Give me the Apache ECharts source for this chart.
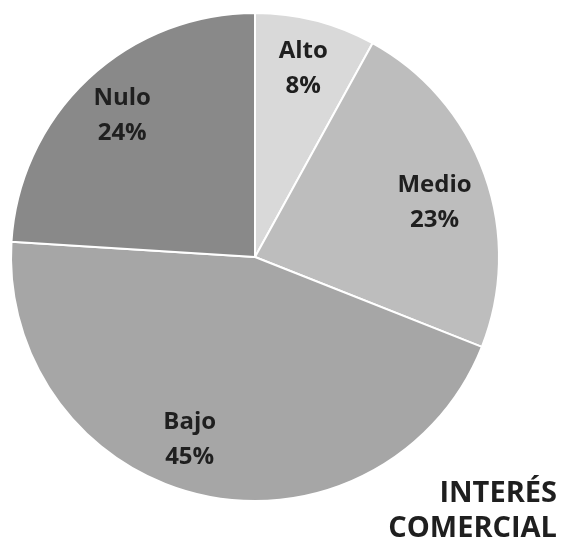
<!DOCTYPE html>
<html>
<head>
<meta charset="utf-8">
<script src="https://cdn.jsdelivr.net/npm/echarts@6/dist/echarts.min.js"></script>
<style>
  html, body { margin: 0; padding: 0; background: #ffffff; }
  #chart { width: 565px; height: 544px; }
</style>
</head>
<body>
<div id="chart"></div>
<script>
// Commercial interest levels, share of responses (%)
const categories = ['Alto', 'Medio', 'Bajo', 'Nulo'];
const shares = [8, 23, 45, 24];
const sliceColors = ['#d9d9d9', '#bdbdbd', '#a6a6a6', '#898989'];
const chartTitle = ['INTERÉS', 'COMERCIAL'];

const fontFamily = '"Open Sans", "DejaVu Sans", sans-serif';
const pieCenter = [255, 257];
const pieRadius = 244;
// small manual nudges of individual slice labels (px)
const labelNudge = { Medio: [-3, 11], Bajo: [-23, -7] };

const sliceData = categories.map((name, i) => ({
  name: name,
  value: shares[i],
  itemStyle: { color: sliceColors[i] }
}));

const labelData = categories.map((name, i) => ({
  name: name,
  value: shares[i],
  label: { offset: labelNudge[name] || [0, 0] }
}));

const chart = echarts.init(document.getElementById('chart'), null, { renderer: 'canvas' });

chart.setOption({
  animation: false,
  backgroundColor: '#ffffff',
  series: [
    {
      // filled slices
      type: 'pie',
      center: pieCenter,
      radius: pieRadius,
      startAngle: 90,
      clockwise: true,
      silent: true,
      label: { show: false },
      labelLine: { show: false },
      itemStyle: { borderColor: '#ffffff', borderWidth: 2 },
      data: sliceData
    },
    {
      // transparent ring carrying the slice labels further out than the default inner position
      type: 'pie',
      center: pieCenter,
      radius: [138, pieRadius],
      startAngle: 90,
      clockwise: true,
      silent: true,
      itemStyle: { color: 'transparent', borderWidth: 0 },
      label: {
        show: true,
        position: 'inside',
        formatter: p => p.name + '\n' + p.value + '%',
        fontFamily: fontFamily,
        fontWeight: 'bold',
        fontSize: 24,
        lineHeight: 35,
        color: '#1f1f1f'
      },
      labelLine: { show: false },
      data: labelData
    }
  ],
  graphic: [
    {
      type: 'text',
      right: 8,
      bottom: -2,
      style: {
        text: chartTitle.join('\n'),
        textAlign: 'right',
        font: 'bold 29px ' + fontFamily,
        lineHeight: 35,
        fill: '#1f1f1f'
      }
    }
  ]
});
</script>
</body>
</html>
